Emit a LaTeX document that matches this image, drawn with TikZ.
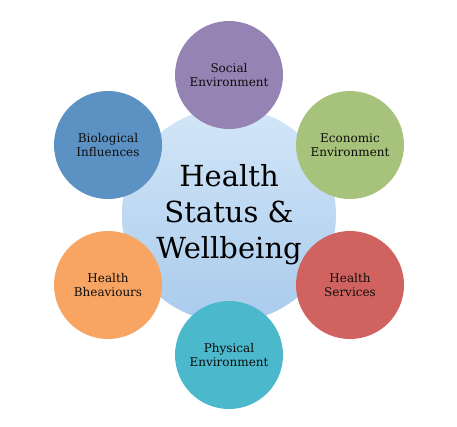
\documentclass[tikz,border=0pt]{standalone}
\usepackage{fontspec}
\setmainfont{DejaVu Serif}
\usepackage{xcolor}
\usepackage{tikz}

\definecolor{hubtop}{HTML}{D3E6F8}
\definecolor{hubbot}{HTML}{A9CBEC}
\definecolor{socialc}{HTML}{9583B4}
\definecolor{econc}{HTML}{A6C27B}
\definecolor{servc}{HTML}{D0635F}
\definecolor{physc}{HTML}{4BB8CB}
\definecolor{behavc}{HTML}{F8A563}
\definecolor{bioc}{HTML}{5B91C3}

\tikzset{
  factor/.style={circle, minimum size=108pt, inner sep=0pt, align=center,
    text=black!95, font=\fontsize{12}{13.5}\selectfont},
  hub/.style={circle, minimum size=214pt, inner sep=0pt, align=center,
    top color=hubtop, bottom color=hubbot,
    font=\fontsize{29}{36}\selectfont}
}

\begin{document}
\begin{tikzpicture}[x=1pt, y=-1pt]
        \useasboundingbox (0, 0) rectangle (457, 426);

        \node[hub] (health) at (229, 215) {Health\\Status \&\\Wellbeing};

        \node[factor, fill=socialc] (social) at (229, 75) {Social\\Environment};
        \node[factor, fill=econc] (economic) at (350, 145) {Economic\\Environment};
        \node[factor, fill=servc] (services) at (350, 285) {Health\\Services};
        \node[factor, fill=physc] (physical) at (229, 355) {Physical\\Environment};
        \node[factor, fill=behavc] (behaviours) at (108, 285) {Health\\Bheaviours};
        \node[factor, fill=bioc] (biological) at (108, 145) {Biological\\Influences};
      \end{tikzpicture}
\end{document}
